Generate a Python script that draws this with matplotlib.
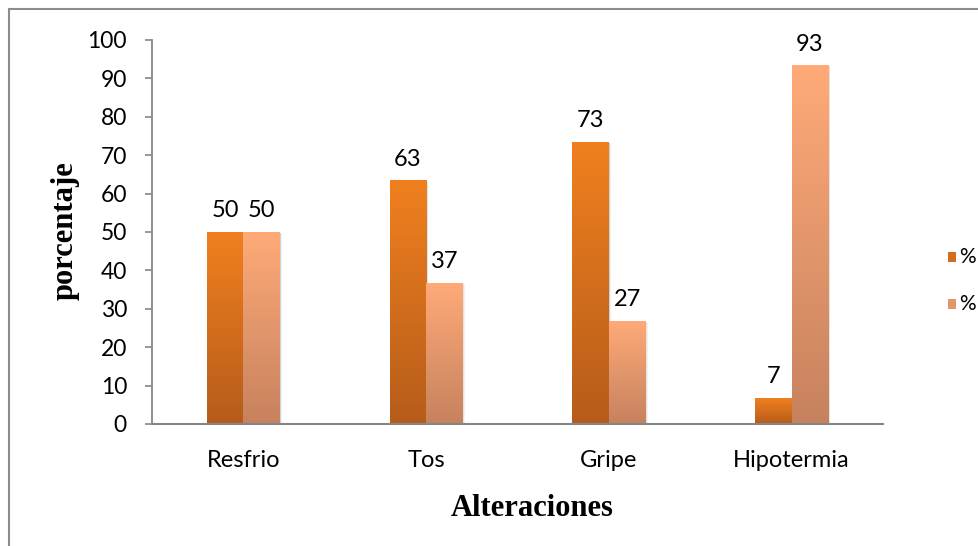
import numpy as np
import matplotlib
matplotlib.use("Agg")
import matplotlib.pyplot as plt
from matplotlib.colors import LinearSegmentedColormap
from matplotlib.patches import Rectangle
from matplotlib.lines import Line2D

categorias = ['Resfrio', 'Tos', 'Gripe', 'Hipotermia']
serie1 = [50, 63.3, 73.3, 6.7]
serie2 = [50, 36.7, 26.7, 93.3]
etiquetas1 = ['50', '63', '73', '7']
etiquetas2 = ['50', '37', '27', '93']
nombres = ['%', '%']

# colores (arriba, abajo) para el degradado
col1 = ('#F0801F', '#B65C1A')
col2 = ('#FFAA78', '#C6825E')

W, H = 979, 546
fig = plt.figure(figsize=(W / 100, H / 100), dpi=100)
fig.patch.set_facecolor('white')

ax = fig.add_axes([152 / W, (H - 424) / H, (883 - 152) / W, (424 - 40) / H])

gris = '#868686'
for s in ['top', 'right']:
    ax.spines[s].set_visible(False)
ax.spines['left'].set_color(gris)
ax.spines['bottom'].set_color(gris)
ax.spines['left'].set_linewidth(1.3)
ax.spines['bottom'].set_linewidth(1.5)

ancho = 0.2
x = np.arange(len(categorias))


def barra_degradado(ax, xc, h, cols):
    cmap = LinearSegmentedColormap.from_list('g', [cols[1], cols[0]])
    grad = np.linspace(0, 1, 256).reshape(-1, 1)
    # sombra ligera
    for k, a in [(0.012, 0.05), (0.008, 0.06), (0.004, 0.08)]:
        ax.add_patch(Rectangle((xc - ancho / 2 + k, 0), ancho, h - 0.2,
                               facecolor='black', alpha=a, linewidth=0, zorder=1))
    ax.imshow(grad, aspect='auto', cmap=cmap, origin='lower',
              extent=(xc - ancho / 2, xc + ancho / 2, 0, h), zorder=2)


for i in range(len(categorias)):
    x1 = x[i] - ancho / 2
    x2 = x[i] + ancho / 2
    barra_degradado(ax, x1, serie1[i], col1)
    barra_degradado(ax, x2, serie2[i], col2)
    ax.annotate(etiquetas1[i], (x1, serie1[i]), xytext=(0, 8), textcoords='offset points',
                ha='center', va='bottom', fontsize=17, family='Lato', color='black')
    ax.annotate(etiquetas2[i], (x2, serie2[i]), xytext=(0, 8), textcoords='offset points',
                ha='center', va='bottom', fontsize=17, family='Lato', color='black')

ax.set_xlim(-0.5, len(categorias) - 0.5)
ax.set_ylim(0, 100)
ax.set_yticks(range(0, 101, 10))
ax.set_xticks(x)
ax.set_xticklabels(categorias)
ax.tick_params(axis='y', direction='out', length=5, width=1.2, color=gris, pad=13,
               labelsize=16.5, labelfontfamily='Lato')
ax.tick_params(axis='x', length=0, pad=19, labelsize=17, labelfontfamily='Lato')

fig.text(65 / W, 1 - 231 / H, 'porcentaje', rotation=90, ha='center', va='center',
         fontsize=22, fontweight='bold', family='Liberation Serif')
fig.text(532 / W, 1 - 508 / H, 'Alteraciones', ha='center', va='center',
         fontsize=22, fontweight='bold', family='Liberation Serif')

# leyenda
for j, (nom, cols) in enumerate(zip(nombres, [col1, col2])):
    yc = 257 + j * 47
    cmap = LinearSegmentedColormap.from_list('g', [cols[0], cols[1]])
    fig.patches.append(Rectangle((948 / W, 1 - (yc + 5) / H), 8 / W, 10 / H,
                                 facecolor=cmap(0.5), linewidth=0,
                                 transform=fig.transFigure, figure=fig))
    fig.text(959 / W, 1 - yc / H, nom, ha='left', va='center', fontsize=15, family='Lato')

# marco del grafico
fig.add_artist(Line2D([9 / W, 9 / W], [0, 1 - 9 / H], color='#8C8C8C', linewidth=1.5))
fig.add_artist(Line2D([9 / W, 1], [1 - 9 / H, 1 - 9 / H], color='#8C8C8C', linewidth=1.5))

fig.savefig('out.png', dpi=100, facecolor='white')
